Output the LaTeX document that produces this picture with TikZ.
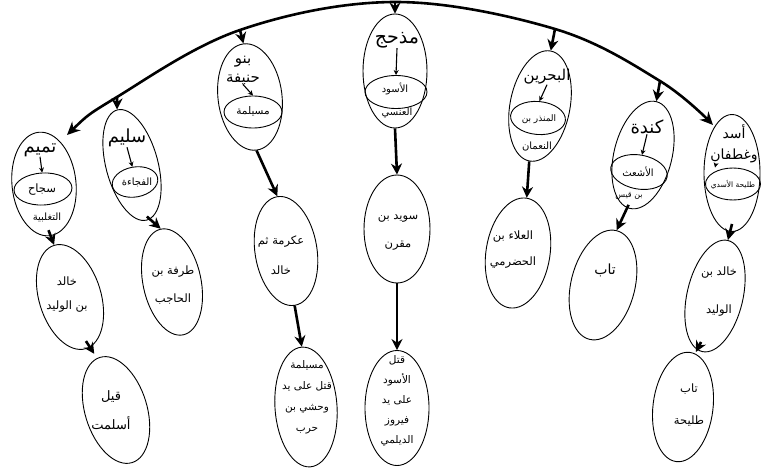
\documentclass[tikz,border=0pt]{standalone}
\usepackage{fontspec}
\usetikzlibrary{shapes.geometric,arrows.meta,calc}
\newfontfamily\arfont[Script=Arabic]{DejaVu Sans}
\TeXXeTstate=1
\newcommand{\artx}[1]{\beginR #1\endR}
\begin{document}
\begin{tikzpicture}[x=1pt,y=-1pt,
  ell/.style={draw, ellipse, line width=0.9pt, inner sep=0pt},
  arcline/.style={line width=2.6pt, {Stealth[length=13pt,width=12pt]}-{Stealth[length=13pt,width=12pt]}},
  arr/.style={line width=2.6pt, -{Stealth[length=11pt,width=11pt]}},
  tiny/.style={line width=1.1pt, -{Stealth[length=5pt,width=5pt]}},
  big/.style={font=\arfont\fontsize{18}{20}\selectfont, inner sep=0pt, align=center},
  mid/.style={font=\arfont\fontsize{11.5}{14}\selectfont, inner sep=0pt, align=center},
  sml/.style={font=\arfont\fontsize{10}{12}\selectfont, inner sep=0pt, align=center},
]
\useasboundingbox (0,0) rectangle (763,468);

% ---------- main arc ----------
\coordinate (b1) at (117,97);
\coordinate (b2) at (240,30);
\coordinate (b3) at (395,2);
\coordinate (b4) at (555,29);
\coordinate (b5) at (660,81);
\draw[arcline] plot[smooth, tension=0.6] coordinates {(67,135) (117,97) (240,30) (395,2) (555,29) (660,81) (713,125)};

% ---------- level 1 ellipses ----------
% Tamim
\node[ell, minimum width=64pt, minimum height=104pt, rotate=6] (tam) at (44,184) {};
\node[ell, minimum width=58pt, minimum height=32pt, rotate=3] (tamI) at (43,189) {};
\node[big] (tamT) at (40,150) {\artx{تميم}};
\node[sml, font=\arfont\fontsize{11.5}{13}\selectfont] (tamS) at (42,190) {\artx{سجاح}};
\node[sml] (tamS2) at (47,217) {\artx{التغلبية}};
\draw[tiny] (tamT.south) -- (tamI.north);

% Sulaym
\node[ell, minimum width=52pt, minimum height=114pt, rotate=15] (slm) at (132,165) {};
\node[ell, minimum width=46pt, minimum height=30pt, rotate=10] (slmI) at (135,182) {};
\node[big] (slmT) at (127,138) {\artx{سليم}};
\node[sml] (slmS) at (137,182) {\artx{الفجاءة}};
\draw[tiny] (slmT.south) -- (slmI.north);

% Banu Hanifa
\node[ell, minimum width=64pt, minimum height=107pt, rotate=7] (hnf) at (250,97) {};
\node[ell, minimum width=58pt, minimum height=32pt] (hnfI) at (253,112) {};
\node[big, font=\arfont\fontsize{15}{19}\selectfont] (hnfT) at (243,70) {\artx{بنو}\\\artx{حنيفة}};
\node[sml, font=\arfont\fontsize{10.5}{12}\selectfont] (hnfS) at (253,111) {\artx{مسيلمة}};
\draw[tiny] (hnfT.south) -- (hnfI.north);

% Madhhij
\node[ell, minimum width=64pt, minimum height=114pt] (mdh) at (395,71) {};
\node[ell, minimum width=62pt, minimum height=33pt] (mdhI) at (396,92) {};
\node[big, font=\arfont\fontsize{19}{21}\selectfont] (mdhT) at (397,40) {\artx{مذحج}};
\node[sml] (mdhS) at (395,89) {\artx{الأسود}};
\node[sml] (mdhS2) at (397,113) {\artx{العنسي}};
\draw[tiny] (mdhT.south) -- (mdhI.north);

% Bahrain
\node[ell, minimum width=60pt, minimum height=112pt, rotate=-11] (bhr) at (540,106) {};
\node[ell, minimum width=55pt, minimum height=33pt, rotate=-5] (bhrI) at (538,118) {};
\node[big, font=\arfont\fontsize{15}{17}\selectfont] (bhrT) at (547,77) {\artx{البحرين}};
\node[sml, font=\arfont\fontsize{9}{10}\selectfont] (bhrS) at (539,119) {\artx{المنذر بن}};
\node[sml] (bhrS2) at (537,147) {\artx{النعمان}};
\draw[tiny] (bhrT.south) -- (bhrI.north);

% Kinda
\node[ell, minimum width=58pt, minimum height=110pt, rotate=-14] (knd) at (643,155) {};
\node[ell, minimum width=57pt, minimum height=34pt, rotate=-10] (kndI) at (639,172) {};
\node[big] (kndT) at (647,127) {\artx{كندة}};
\node[sml] (kndS) at (638,172) {\artx{الأشعث}};
\node[sml, font=\arfont\fontsize{8}{9}\selectfont] (kndS2) at (629,196) {\artx{بن قيس}};
\draw[tiny] (kndT.south) -- (kndI.north);

% Asad wa Ghatafan
\node[ell, minimum width=56pt, minimum height=117pt] (asd) at (732,173) {};
\node[ell, minimum width=55pt, minimum height=32pt] (asdI) at (733,184) {};
\node[big, font=\arfont\fontsize{14}{21}\selectfont] (asdT) at (734,144) {\artx{أسد}\\\artx{وغطفان}};
\node[sml, font=\arfont\fontsize{7.5}{9}\selectfont] (asdS) at (733,185) {\artx{طليحة الأسدي}};
\draw[tiny] ([xshift=-18pt]asdT.south) -- ([xshift=-18pt]asdI.north);

% ---------- level 2 / 3 ellipses ----------
\node[ell, minimum width=62pt, minimum height=108pt, rotate=17] (kha1) at (70,297) {};
\node[mid] (kha1T) at (67,295) {\artx{خالد}\\[10pt]\artx{بن الوليد}};
\node[ell, minimum width=62pt, minimum height=110pt, rotate=17] (qyl) at (116,410) {};
\node[mid, font=\arfont\fontsize{13}{15}\selectfont] (qylT) at (111,410) {\artx{قيل}\\[14pt]\artx{أسلمت}};

\node[ell, minimum width=58pt, minimum height=108pt, rotate=12] (trf) at (172,282) {};
\node[mid] (trfT) at (173,285) {\artx{طرفة بن}\\[14pt]\artx{الحاجب}};

\node[ell, minimum width=62pt, minimum height=110pt, rotate=9] (akr) at (286,251) {};
\node[mid] (akrT) at (281,255) {\artx{عكرمة ثم}\\[16pt]\artx{خالد}};
\node[ell, minimum width=62pt, minimum height=120pt, rotate=4] (msl) at (306,407) {};
\node[mid, font=\arfont\fontsize{10.5}{21}\selectfont] (mslT) at (307,397) {\artx{مسيلمة}\\\artx{قتل على يد}\\\artx{وحشي بن}\\\artx{حرب}};

\node[ell, minimum width=66pt, minimum height=108pt] (swd) at (397,229) {};
\node[mid] (swdT) at (398,233) {\artx{سويد بن}\\[14pt]\artx{مقرن}};
\node[ell, minimum width=64pt, minimum height=115pt] (qtl) at (397,408) {};
\node[mid, font=\arfont\fontsize{10.5}{20}\selectfont] (qtlT) at (397,401) {\artx{قتل}\\\artx{الأسود}\\\artx{على يد}\\\artx{فيروز}\\\artx{الديلمي}};

\node[ell, minimum width=64pt, minimum height=111pt, rotate=-9] (ala) at (518,253) {};
\node[mid] (alaT) at (513,250) {\artx{العلاء بن}\\[12pt]\artx{الحضرمي}};

\node[ell, minimum width=64pt, minimum height=112pt, rotate=-14] (tab) at (603,285) {};
\node[mid, font=\arfont\fontsize{14}{16}\selectfont] (tabT) at (605,270) {\artx{تاب}};

\node[ell, minimum width=56pt, minimum height=114pt, rotate=-13] (kha2) at (715,296) {};
\node[mid] (kha2T) at (719,292) {\artx{خالد بن}\\[24pt]\artx{الوليد}};
\node[ell, minimum width=60pt, minimum height=110pt, rotate=-7] (tbt) at (683,407) {};
\node[mid] (tbtT) at (689,405) {\artx{تاب}\\[18pt]\artx{طليحة}};

% ---------- branches from the arc ----------
\draw[arr] (b1) -- (slm.north);
\draw[arr] (b2) -- (hnf.north);
\draw[arr] (b3) -- (mdh.north);
\draw[arr] (b4) -- (bhr.north);
\draw[arr] (b5) -- (knd.north);

% ---------- vertical chains ----------
\draw[arr] ($(tam.south)+(-1,-6)$) -- (kha1.north);
\draw[arr] ($(kha1.south)+(0,-8)$) -- ($(kha1.south)!0.6!(qyl.north)$);
\draw[arr] ($(slm.south)+(0,-4)$) -- (trf.north);
\draw[arr] (hnf.south) -- (akr.north);
\draw[arr] (akr.south) -- (msl.north);
\draw[arr] (mdh.south) -- (swd.north);
\draw[arr] (swd.south) -- (qtl.north);
\draw[arr] (bhr.south) -- (ala.north);
\draw[arr] ($(knd.south)+(-1,-4)$) -- (tab.north);
\draw[arr] ($(asd.south)+(0,-8)$) -- (kha2.north);
\draw[arr] ($(kha2.south)+(-1,-10)$) -- ($(kha2.south)!0.5!(tbt.north)$);
\end{tikzpicture}
\end{document}
